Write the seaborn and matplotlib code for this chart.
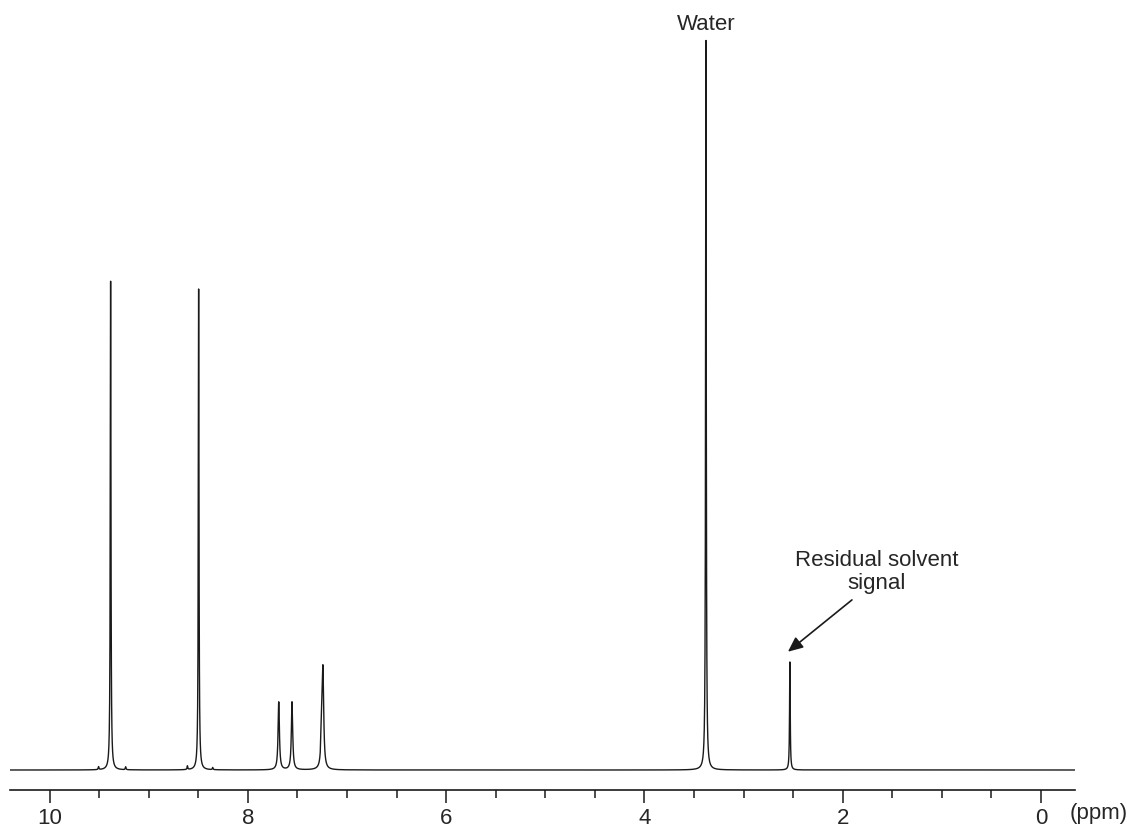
import numpy as np
import pandas as pd
import matplotlib
matplotlib.use('Agg')
import matplotlib.pyplot as plt
from matplotlib.ticker import MultipleLocator
import seaborn as sns

# peak list (ppm, relative height, half-width in ppm)
peak_ppm = [9.385, 9.506, 9.233, 8.497, 8.610, 8.355, 7.689, 7.555, 7.243, 7.256, 3.380, 3.380, 2.533]
peak_height = [0.670, 0.004, 0.004, 0.660, 0.005, 0.003, 0.093, 0.093, 0.130, 0.050, 0.994, 0.006, 0.148]
peak_width = [0.004, 0.004, 0.004, 0.004, 0.004, 0.004, 0.008, 0.008, 0.009, 0.008, 0.004, 0.012, 0.004]

major_ticks = [0, 2, 4, 6, 8, 10]
x_range = (10.40, -0.343)

# build the spectrum as a sum of Lorentzian lines
ppm = np.linspace(-0.35, 10.41, 30000)
intensity = np.zeros_like(ppm)
for x0, h, w in zip(peak_ppm, peak_height, peak_width):
    intensity += h * w**2 / ((ppm - x0)**2 + w**2)
df = pd.DataFrame({'ppm': ppm, 'intensity': intensity})

sns.set_style('white')
plt.rcParams['font.family'] = ['Liberation Sans', 'DejaVu Sans']

fig = plt.figure(figsize=(11.27, 8.27), dpi=100)
ax = fig.add_axes([10/1127, 1 - 772/827, 1065/1127, 742/827])

sns.lineplot(data=df, x='ppm', y='intensity', ax=ax, color='#1a1a1a', linewidth=1.0)

ax.set_xlim(*x_range)
ax.set_ylim(-2/730, 1 + 10/730)

for s in ['left', 'top', 'right']:
    ax.spines[s].set_visible(False)
ax.spines['bottom'].set_position(('outward', 13))
ax.spines['bottom'].set_color('#1a1a1a')
ax.spines['bottom'].set_linewidth(1.2)

ax.set_yticks([])
ax.set_xticks(major_ticks)
ax.set_xticklabels([str(t) for t in major_ticks])
ax.xaxis.set_minor_locator(MultipleLocator(0.5))
ax.tick_params(axis='x', which='major', length=9, width=1.1, color='#1a1a1a',
               labelsize=16, pad=4, bottom=True)
ax.tick_params(axis='x', which='minor', length=6, width=1.1, color='#1a1a1a', bottom=True)
ax.set_xlabel('')
ax.set_ylabel('')

fig.text(1099/1127, 1 - 814/827, '(ppm)', ha='center', va='center', fontsize=16)

ax.text(3.38, 1.021, 'Water', ha='center', va='center', fontsize=16)
ax.text(1.655, 0.271, 'Residual solvent\nsignal', ha='center', va='center',
        fontsize=16, multialignment='center', linespacing=1.15)
ax.annotate('', xy=(2.553, 0.162), xytext=(1.907, 0.233),
            arrowprops=dict(arrowstyle='-|>,head_length=0.9,head_width=0.4',
                            color='#1a1a1a', lw=1.2, shrinkA=0, shrinkB=0))

fig.savefig('out.png', dpi=100)
